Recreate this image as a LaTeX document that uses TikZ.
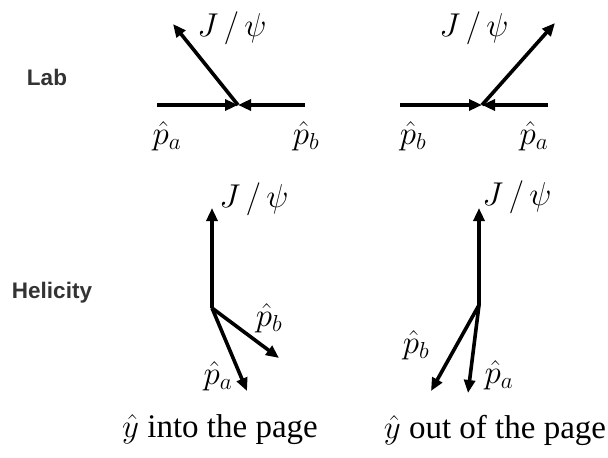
\documentclass[tikz,border=0pt]{standalone}
\usepackage{fix-cm}
\usepackage{amsmath}
\usepackage{fontspec}
\setmainfont{Liberation Serif}
\setsansfont{Liberation Sans}
\usetikzlibrary{arrows.meta, positioning, calc}

\begin{document}
\begin{tikzpicture}[
    x=1pt, y=-1pt,
    vec/.style={-{Triangle[length=13pt, width=11pt]}, line width=3.6pt},
    lbl/.style={font=\fontsize{33}{38}\selectfont, inner sep=0pt},
    frame/.style={font=\sffamily\bfseries\fontsize{22.5}{26}\selectfont, text=black!80, inner sep=0pt}
]
\useasboundingbox (0,0) rectangle (608,458);

% Row labels
\node[frame] (lab) at (47,77) {Lab};
\node[frame] (hel) at (52,293) {Helicity};

% Lab frame, left
\coordinate (vL) at (238,105);
\coordinate (aL) at (157,105);
\coordinate (bL) at (305,105);
\coordinate (jL) at (173,24);
\draw[vec] (aL) -- (vL);
\draw[vec] (bL) -- (vL);
\draw[vec] (vL) -- (jL);
\node[lbl] (jLt) at (232,28) {$J\,/\,\psi$};
\node[lbl] (aLt) at (167,136) {$\hat{p}_a$};
\node[lbl] (bLt) at (306,136) {$\hat{p}_b$};

% Lab frame, right
\coordinate (vR) at (482,105);
\coordinate (bR) at (400,105);
\coordinate (aR) at (548,105);
\coordinate (jR) at (555,23);
\draw[vec] (bR) -- (vR);
\draw[vec] (aR) -- (vR);
\draw[vec] (vR) -- (jR);
\node[lbl] (jRt) at (474,28) {$J\,/\,\psi$};
\node[lbl] (bRt) at (413,136) {$\hat{p}_b$};
\node[lbl] (aRt) at (534,136) {$\hat{p}_a$};

% Helicity frame, left
\coordinate (vHL) at (212,308);
\coordinate (jHL) at (212,208);
\coordinate (bHL) at (279,358);
\coordinate (aHL) at (247,391);
\draw[vec] (vHL) -- (jHL);
\draw[vec] (vHL) -- (bHL);
\draw[vec] (vHL) -- (aHL);
\node[lbl] (jHLt) at (254,199) {$J\,/\,\psi$};
\node[lbl] (bHLt) at (269,318) {$\hat{p}_b$};
\node[lbl] (aHLt) at (218,376) {$\hat{p}_a$};

% Helicity frame, right
\coordinate (vHR) at (479,305);
\coordinate (jHR) at (479,208);
\coordinate (bHR) at (431,391);
\coordinate (aHR) at (468,393);
\draw[vec] (vHR) -- (jHR);
\draw[vec] (vHR) -- (bHR);
\draw[vec] (vHR) -- (aHR);
\node[lbl] (jHRt) at (517,197) {$J\,/\,\psi$};
\node[lbl] (bHRt) at (416,345) {$\hat{p}_b$};
\node[lbl] (aHRt) at (499,375) {$\hat{p}_a$};

% Captions
\node[lbl] (capL) at (220,430) {$\hat{y}$ into the page};
\node[lbl] (capR) at (495,430) {$\hat{y}$ out of the page};

\end{tikzpicture}
\end{document}
